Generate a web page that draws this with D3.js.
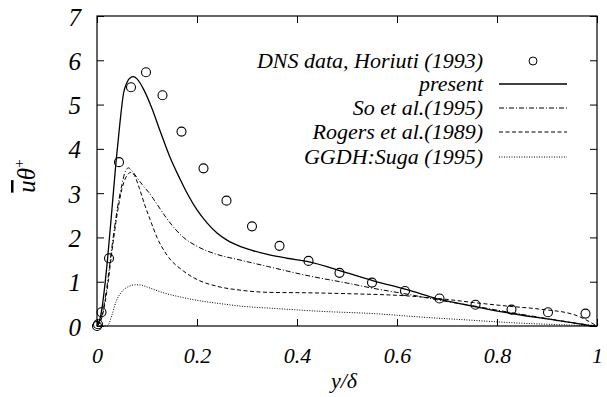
<!DOCTYPE html>
<html><head><meta charset="utf-8">
<script src="https://cdn.jsdelivr.net/npm/d3@7"></script>
<style>
body{margin:0;background:#fff;}
svg text{font-family:"Liberation Serif","DejaVu Serif","Times New Roman",Times,serif !important;font-style:italic;fill:#000;}
</style></head>
<body><svg id="c" width="607" height="397"></svg>
<script>
const xTicks = [0, 0.2, 0.4, 0.6, 0.8, 1];
const xTickLabels = ["0", "0.2", "0.4", "0.6", "0.8", "1"];
const yTicks = [0, 1, 2, 3, 4, 5, 6, 7];
const yTickLabels = ["0", "1", "2", "3", "4", "5", "6", "7"];

const dnsX = [0, 0.002, 0.009, 0.024, 0.044, 0.068, 0.098, 0.131, 0.169, 0.213, 0.259, 0.31, 0.365, 0.423, 0.485, 0.55, 0.616, 0.685, 0.757, 0.829, 0.902, 0.977];
const dnsY = [0, 0.04, 0.31, 1.53, 3.70, 5.39, 5.73, 5.21, 4.39, 3.56, 2.83, 2.25, 1.81, 1.47, 1.20, 0.98, 0.79, 0.62, 0.48, 0.37, 0.31, 0.28];

const presentX = [0, 0.005, 0.01, 0.015, 0.021, 0.03, 0.038, 0.046, 0.053, 0.06, 0.066, 0.073, 0.08, 0.093, 0.109, 0.126, 0.146, 0.166, 0.183, 0.2, 0.22, 0.24, 0.26, 0.286, 0.31, 0.343, 0.38, 0.42, 0.5, 0.553, 0.62, 0.686, 0.75, 0.819, 0.9, 0.953, 0.99];
const presentY = [0, 0.12, 0.4, 0.85, 1.5, 2.65, 3.7, 4.6, 5.25, 5.5, 5.6, 5.63, 5.58, 5.35, 4.94, 4.41, 3.81, 3.32, 2.94, 2.62, 2.33, 2.1, 1.94, 1.8, 1.71, 1.61, 1.53, 1.46, 1.2, 1.02, 0.82, 0.6, 0.45, 0.3, 0.16, 0.07, 0];

const soX = [0, 0.01, 0.02, 0.03, 0.04, 0.05, 0.057, 0.063, 0.07, 0.08, 0.09, 0.106, 0.12, 0.14, 0.173, 0.2, 0.239, 0.286, 0.343, 0.42, 0.5, 0.553, 0.62, 0.686, 0.75, 0.819, 0.9, 0.96, 1.0];
const soY = [0, 0.25, 0.9, 1.8, 2.6, 3.2, 3.5, 3.57, 3.5, 3.35, 3.2, 2.98, 2.75, 2.42, 2.0, 1.8, 1.62, 1.49, 1.34, 1.14, 0.97, 0.85, 0.72, 0.58, 0.46, 0.32, 0.17, 0.06, 0];

const rogersX = [0, 0.01, 0.02, 0.03, 0.04, 0.05, 0.06, 0.068, 0.075, 0.085, 0.095, 0.106, 0.12, 0.14, 0.173, 0.2, 0.239, 0.286, 0.343, 0.42, 0.5, 0.62, 0.7, 0.753, 0.82, 0.886, 0.953, 1.0];
const rogersY = [0, 0.2, 0.8, 1.7, 2.5, 3.1, 3.4, 3.47, 3.4, 3.1, 2.75, 2.41, 2.0, 1.6, 1.24, 1.05, 0.9, 0.81, 0.76, 0.75, 0.73, 0.68, 0.6, 0.53, 0.45, 0.38, 0.26, 0];

const ggdhX = [0, 0.02, 0.03, 0.038, 0.05, 0.065, 0.075, 0.085, 0.1, 0.13, 0.173, 0.2, 0.25, 0.286, 0.35, 0.45, 0.553, 0.65, 0.75, 0.82, 0.9, 1.0];
const ggdhY = [0, 0, 0.25, 0.55, 0.78, 0.9, 0.93, 0.93, 0.88, 0.76, 0.64, 0.58, 0.5, 0.45, 0.4, 0.33, 0.28, 0.2, 0.13, 0.08, 0.04, 0];

const legendLabels = ["DNS data, Horiuti (1993)", "present", "So et al.(1995)", "Rogers et al.(1989)", "GGDH:Suga (1995)"];

const FONT = "Liberation Serif, DejaVu Serif, serif";
const svg = d3.select("#c");
const L = 97, R = 597, T = 16, B = 326;
const x = d3.scaleLinear().domain([0, 1]).range([L, R]);
const y = d3.scaleLinear().domain([0, 7]).range([B, T]);

svg.append("rect").attr("x", L).attr("y", T).attr("width", R - L).attr("height", B - T)
  .attr("fill", "none").attr("stroke", "#000").attr("stroke-width", 1.2);

const ax = svg.append("g").attr("transform", `translate(0,${B})`)
  .call(d3.axisBottom(x).tickValues(xTicks).tickSize(-7).tickPadding(21).tickFormat((d, i) => xTickLabels[i]));
const axTop = svg.append("g").attr("transform", `translate(0,${T})`)
  .call(d3.axisTop(x).tickValues(xTicks).tickSize(-7).tickFormat(""));
const ay = svg.append("g").attr("transform", `translate(${L},0)`)
  .call(d3.axisLeft(y).tickValues(yTicks).tickSize(-7).tickPadding(16).tickFormat((d, i) => yTickLabels[i]));
const ayR = svg.append("g").attr("transform", `translate(${R},0)`)
  .call(d3.axisRight(y).tickValues(yTicks).tickSize(-7).tickFormat(""));
[ax, axTop, ay, ayR].forEach(g => {
  g.attr("font-family", FONT);
  g.select(".domain").remove();
  g.selectAll(".tick line").attr("stroke", "#000").attr("stroke-width", 1);
});
ax.selectAll(".tick text").attr("font-size", 22).attr("font-style", "italic");
ay.selectAll(".tick text").attr("font-size", 25).attr("font-style", "italic").attr("dy", "0.36em");

svg.append("text").attr("x", 344).attr("y", 388).attr("text-anchor", "middle")
  .attr("font-family", FONT).attr("font-size", 22).text("y/δ");
const yl = svg.append("text").attr("transform", "translate(35,176) rotate(-90)")
  .attr("text-anchor", "middle").attr("font-family", FONT).attr("font-size", 25);
yl.append("tspan").attr("text-decoration", "overline").text("u");
yl.append("tspan").text("θ");
yl.append("tspan").attr("font-size", 15).attr("dy", -11).attr("font-style", "normal").text("+");

const line = d3.line().x(d => x(d[0])).y(d => y(d[1])).curve(d3.curveMonotoneX);
const series = [
  { xs: presentX, ys: presentY, dash: null, w: 1.3 },
  { xs: soX, ys: soY, dash: "5,2,1,2", w: 1 },
  { xs: rogersX, ys: rogersY, dash: "4,2.5", w: 1 },
  { xs: ggdhX, ys: ggdhY, dash: "1,1.5", w: 1 }
];
const plot = svg.append("g");
series.forEach(s => {
  const pts = s.xs.map((v, i) => [v, s.ys[i]]);
  plot.append("path").datum(pts).attr("d", line).attr("fill", "none")
    .attr("stroke", "#000").attr("stroke-width", s.w)
    .attr("stroke-dasharray", s.dash);
});
plot.selectAll("circle.dns").data(dnsX.map((v, i) => [v, dnsY[i]])).enter()
  .append("circle").attr("class", "dns")
  .attr("cx", d => x(d[0])).attr("cy", d => y(d[1])).attr("r", 4.5)
  .attr("fill", "none").attr("stroke", "#000").attr("stroke-width", 1.1);

const lg = svg.append("g").attr("font-family", FONT);
const rowsY = [61, 84, 108, 132, 157];
legendLabels.forEach((t, i) => {
  lg.append("text").attr("x", 483).attr("y", rowsY[i]).attr("dy", "0.33em")
    .attr("text-anchor", "end").attr("font-size", 22).text(t);
  if (i === 0) {
    lg.append("circle").attr("cx", 533).attr("cy", rowsY[i]).attr("r", 4)
      .attr("fill", "none").attr("stroke", "#000").attr("stroke-width", 1);
  } else {
    const s = series[i - 1];
    lg.append("line").attr("x1", 499).attr("x2", 567).attr("y1", rowsY[i]).attr("y2", rowsY[i])
      .attr("stroke", "#000").attr("stroke-width", s.w).attr("stroke-dasharray", s.dash);
  }
});
</script></body></html>
